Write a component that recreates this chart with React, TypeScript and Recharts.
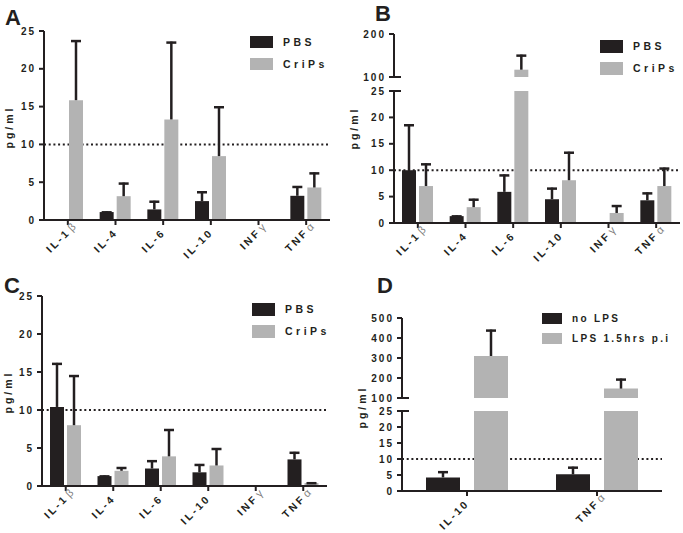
import React from 'react';
import { BarChart, Bar, XAxis, YAxis, ReferenceLine } from 'recharts';

// categories
const cytokines = ['IL-1β', 'IL-4', 'IL-6', 'IL-10', 'INFγ', 'TNFα'];
const lpsCytokines = ['IL-10', 'TNFα'];

// panel A
const pbsA = [0, 1.05, 1.4, 2.5, 0, 3.2];
const pbsSdA = [0, 0.1, 1.15, 1.3, 0, 1.3];
const cripsA = [15.85, 3.15, 13.3, 8.45, 0, 4.3];
const cripsSdA = [7.95, 1.8, 10.3, 6.6, 0, 2.0];

// panel B
const pbsB = [10.0, 1.3, 5.9, 4.5, 0, 4.3];
const pbsSdB = [8.7, 0.15, 3.3, 2.2, 0, 1.5];
const cripsB = [7.0, 3.0, 117, 8.1, 1.9, 7.0];
const cripsSdB = [4.3, 1.6, 35, 5.4, 1.5, 3.5];

// panel C
const pbsC = [10.4, 1.3, 2.3, 1.8, 0, 3.5];
const pbsSdC = [5.8, 0.1, 1.1, 1.1, 0, 1.0];
const cripsC = [8.0, 2.0, 3.9, 2.7, 0, 0.4];
const cripsSdC = [6.6, 0.5, 3.6, 2.3, 0, 0.1];

// panel D
const noLps = [4.25, 5.2];
const noLpsSd = [1.95, 2.4];
const lps = [310, 147];
const lpsSd = [132, 50];

// axes
const lowTicks = [0, 5, 10, 15, 20, 25];
const highTicksB = [100, 200];
const highTicksD = [100, 200, 300, 400, 500];
const threshold = 10;

const INK = '#231f20';
const GRAY = '#b3b3b3';
const FONT = '"Liberation Sans", Arial, sans-serif';
const TICK = 5;
const MARGIN = 3;

const rows = (names: string[], a: number[], aSd: number[], b: number[], bSd: number[]) =>
  names.map((name, i) => ({ name, a: a[i], aErr: aSd[i], b: b[i], bErr: bSd[i] }));

const dataA = rows(cytokines, pbsA, pbsSdA, cripsA, cripsSdA);
const dataB = rows(cytokines, pbsB, pbsSdB, cripsB, cripsSdB);
const dataC = rows(cytokines, pbsC, pbsSdC, cripsC, cripsSdC);
const dataD = rows(lpsCytokines, noLps, noLpsSd, lps, lpsSd);

// error bar drawn as a stacked segment above the mean
const ErrShape = (props: any) => {
  const { x, y, width, height } = props;
  if (!height || height <= 0) return <g />;
  const cx = x + width / 2;
  return (
    <g>
      <line x1={cx} x2={cx} y1={y} y2={y + height} stroke={INK} strokeWidth={2.5} />
      <line x1={cx - 5} x2={cx + 5} y1={y + 1} y2={y + 1} stroke={INK} strokeWidth={2.5} />
    </g>
  );
};

const XTick = (props: any) => {
  const { x, y, payload } = props;
  const v = String(payload.value);
  const greek = /[βγα]$/.test(v) ? v.slice(-1) : '';
  const base = greek ? v.slice(0, -1) : v;
  const ax = x + 3;
  const ay = y + 6;
  const rot = `rotate(-45, ${ax}, ${ay})`;
  return (
    <g>
      <text x={ax} y={ay} transform={rot} textAnchor="end" fontFamily={FONT} fontSize={10.5}
        fontWeight={700} letterSpacing={2.5} fill={INK}>
        {base}
      </text>
      {greek && (
        <text x={ax} y={ay} dx={1.5} transform={rot} textAnchor="start" fontFamily={FONT}
          fontSize={11} fontWeight={400} fill="#808080">
          {greek}
        </text>
      )}
    </g>
  );
};

const makeYTick = (brk?: number) => (props: any) => {
  const { x, y, payload } = props;
  const axisX = x + TICK + MARGIN;
  return (
    <g>
      <text x={x} y={y} dy="0.36em" textAnchor="end" fontFamily={FONT} fontSize={10}
        fontWeight={700} letterSpacing={2} fill={INK}>
        {payload.value}
      </text>
      {brk !== undefined && payload.value === brk && (
        <line x1={axisX} x2={axisX + 7} y1={y} y2={y} stroke={INK} strokeWidth={2} />
      )}
    </g>
  );
};

const axisStyle = { stroke: INK, strokeWidth: 2 };

type PanelProps = {
  data: any[];
  width: number;
  height: number;
  top: number;
  right: number;
  bottom?: number;
  yWidth: number;
  xHeight: number;
  domain: [number, number];
  ticks: number[];
  barSize: number;
  barGap: number;
  hideX?: boolean;
  brk?: number;
  back?: boolean;
};

// back layer holds only the dotted threshold line so the bars cover it
const Panel = ({
  data, width, height, top, right, bottom = 0, yWidth, xHeight, domain, ticks, barSize, barGap, hideX, brk, back,
}: PanelProps) => (
  <BarChart
    width={width}
    height={height}
    data={data}
    margin={{ top, right, left: 0, bottom }}
    barSize={barSize}
    barGap={barGap}
  >
    <XAxis
      dataKey="name"
      hide={hideX}
      height={xHeight}
      interval={0}
      axisLine={back ? false : axisStyle}
      tickLine={back ? false : axisStyle}
      tickSize={TICK}
      tick={back ? false : <XTick />}
    />
    <YAxis
      width={yWidth}
      domain={domain}
      ticks={ticks}
      allowDataOverflow
      interval={0}
      axisLine={back ? false : axisStyle}
      tickLine={back ? false : axisStyle}
      tickSize={TICK}
      tickMargin={MARGIN}
      tick={back ? false : makeYTick(brk)}
    />
    {back && <ReferenceLine y={threshold} stroke={INK} strokeWidth={2} strokeDasharray="2 2.7" />}
    {!back && <Bar dataKey="a" stackId="a" fill={INK} isAnimationActive={false} />}
    {!back && <Bar dataKey="aErr" stackId="a" shape={<ErrShape />} isAnimationActive={false} />}
    {!back && <Bar dataKey="b" stackId="b" fill={GRAY} isAnimationActive={false} />}
    {!back && <Bar dataKey="bErr" stackId="b" shape={<ErrShape />} isAnimationActive={false} />}
  </BarChart>
);

const LegendBox = ({
  left, top, names, sw, sh, pitch, textX, fontSize, spacing,
}: {
  left: number; top: number; names: string[]; sw: number; sh: number; pitch: number;
  textX: number; fontSize: number; spacing: number;
}) => (
  <div style={{ position: 'absolute', left, top, fontFamily: FONT, fontWeight: 700, fontSize, letterSpacing: spacing, color: INK }}>
    {names.map((n, i) => (
      <div key={n} style={{ position: 'absolute', left: 0, top: i * pitch, height: sh, whiteSpace: 'nowrap' }}>
        <div style={{ position: 'absolute', left: 0, top: 0, width: sw, height: sh, background: i === 0 ? INK : GRAY }} />
        <div style={{ position: 'absolute', left: textX, top: 0, height: sh, lineHeight: `${sh}px` }}>{n}</div>
      </div>
    ))}
  </div>
);

const Letter = ({ left, top, children }: { left: number; top: number; children: string }) => (
  <div style={{ position: 'absolute', left, top, fontFamily: FONT, fontWeight: 700, fontSize: 22, lineHeight: 1, color: INK }}>
    {children}
  </div>
);

const Abs = ({ left, top, children }: { left: number; top: number; children: React.ReactNode }) => (
  <div style={{ position: 'absolute', left, top }}>{children}</div>
);

const yLabels = [
  { x: 12.5, y: 127 },
  { x: 357.5, y: 128 },
  { x: 12, y: 392 },
  { x: 366, y: 407 },
];

const panelA = { data: dataA, width: 340, height: 265, top: 31, right: 10, yWidth: 44, xHeight: 45, domain: [0, 25] as [number, number], ticks: lowTicks, barSize: 14, barGap: 3 };
const panelB = { data: dataB, width: 343, height: 265, top: 91, right: 3, yWidth: 54, xHeight: 42, domain: [0, 25] as [number, number], ticks: lowTicks, barSize: 14, barGap: 3, brk: 25 };
const panelBHigh = { data: dataB, width: 343, height: 88, top: 34, right: 3, bottom: 11, yWidth: 54, xHeight: 0, domain: [100, 200] as [number, number], ticks: highTicksB, barSize: 14, barGap: 3, hideX: true, brk: 100 };
const panelC = { data: dataC, width: 340, height: 268, top: 31, right: 13, yWidth: 42, xHeight: 47, domain: [0, 25] as [number, number], ticks: lowTicks, barSize: 14, barGap: 3 };
const panelD = { data: dataD, width: 343, height: 268, top: 146, right: 21, yWidth: 62, xHeight: 42, domain: [0, 25] as [number, number], ticks: lowTicks, barSize: 34, barGap: 14, brk: 25 };
const panelDHigh = { data: dataD, width: 343, height: 144, top: 53, right: 21, bottom: 11, yWidth: 62, xHeight: 0, domain: [100, 500] as [number, number], ticks: highTicksD, barSize: 34, barGap: 14, hideX: true, brk: 100 };

export default function App() {
  return (
    <div style={{ position: 'absolute', left: 0, top: 0, width: 683, height: 533, background: '#fff', overflow: 'hidden' }}>
      {/* A */}
      <Abs left={0} top={0}><Panel {...panelA} back /></Abs>
      <Abs left={0} top={0}><Panel {...panelA} /></Abs>
      {/* B */}
      <Abs left={340} top={0}><Panel {...panelB} back /></Abs>
      <Abs left={340} top={0}><Panel {...panelB} /></Abs>
      <Abs left={340} top={0}><Panel {...panelBHigh} /></Abs>
      {/* C */}
      <Abs left={0} top={265}><Panel {...panelC} back /></Abs>
      <Abs left={0} top={265}><Panel {...panelC} /></Abs>
      {/* D */}
      <Abs left={340} top={265}><Panel {...panelD} back /></Abs>
      <Abs left={340} top={265}><Panel {...panelD} /></Abs>
      <Abs left={340} top={265}><Panel {...panelDHigh} /></Abs>

      <svg width={683} height={533} style={{ position: 'absolute', left: 0, top: 0, pointerEvents: 'none' }}>
        {yLabels.map((p, i) => (
          <text key={i} x={p.x} y={p.y} transform={`rotate(-90, ${p.x}, ${p.y})`} textAnchor="middle"
            fontFamily={FONT} fontSize={10.5} fontWeight={700} letterSpacing={3} fill={INK}>
            pg/ml
          </text>
        ))}
      </svg>

      <LegendBox left={250} top={36} names={['PBS', 'CriPs']} sw={23} sh={12} pitch={22} textX={33} fontSize={10.5} spacing={3.5} />
      <LegendBox left={600} top={40} names={['PBS', 'CriPs']} sw={23} sh={13} pitch={22} textX={33} fontSize={10.5} spacing={3.5} />
      <LegendBox left={252} top={303} names={['PBS', 'CriPs']} sw={23} sh={13} pitch={22} textX={33} fontSize={10.5} spacing={3.5} />
      <LegendBox left={542} top={313} names={['no LPS', 'LPS 1.5hrs p.i']} sw={20} sh={11} pitch={20} textX={30} fontSize={10} spacing={2.3} />

      <Letter left={5} top={7}>A</Letter>
      <Letter left={375} top={3}>B</Letter>
      <Letter left={4} top={275}>C</Letter>
      <Letter left={377} top={275}>D</Letter>
    </div>
  );
}
